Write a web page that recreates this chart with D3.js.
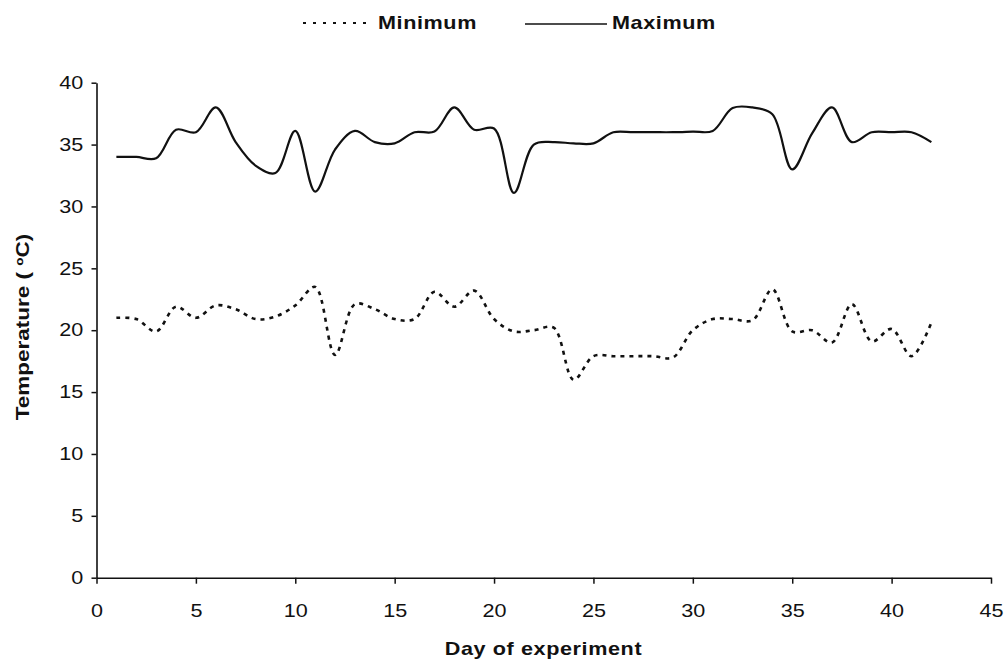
<!DOCTYPE html>
<html>
<head>
<meta charset="utf-8">
<script src="https://cdn.jsdelivr.net/npm/d3@7"></script>
<style>
body { margin: 0; background: #fff; }
text { font-family: "Liberation Sans", Arial, sans-serif; fill: #111; }
</style>
</head>
<body>
<svg id="chart" width="1006" height="663"></svg>
<script>
// daily temperatures
var days = [1, 2, 3, 4, 5, 6, 7, 8, 9, 10, 11, 12, 13, 14, 15, 16, 17, 18, 19, 20, 21,
            22, 23, 24, 25, 26, 27, 28, 29, 30, 31, 32, 33, 34, 35, 36, 37, 38, 39, 40, 41, 42];
var maxTemp = [34, 34, 33.9, 36.2, 36, 38, 35.2, 33.3, 32.7, 36.1, 31.2, 34.6, 36.1, 35.2, 35.1, 36.0, 36.05, 38, 36.2, 36.3, 31.1,
               35.0, 35.2, 35.1, 35.1, 36, 36, 36, 36, 36.05, 36.1, 37.95, 38.0, 37.45, 33.0, 35.9, 38.0, 35.2, 36, 36, 36, 35.2];
var minTemp = [21, 20.9, 19.9, 21.9, 21, 22, 21.7, 20.9, 21.1, 22, 23.5, 18, 22.1, 21.7, 20.9, 20.9, 23.1, 21.9, 23.2, 20.9, 19.9,
               20.0, 20.2, 16.0, 17.9, 17.9, 17.9, 17.9, 17.8, 20.0, 20.9, 20.9, 20.8, 23.3, 19.9, 20.0, 19.0, 22.1, 19.1, 20.1, 17.9, 20.6];
var xTicks = [0, 5, 10, 15, 20, 25, 30, 35, 40, 45];
var yTicks = [0, 5, 10, 15, 20, 25, 30, 35, 40];

var svg = d3.select("#chart");
var stretch = "scale(1.2,1)";

var x = d3.scaleLinear().domain([0, 45]).range([96.5, 991]);
var y = d3.scaleLinear().domain([0, 40]).range([577.7, 82.7]);

// axes
var xAxis = svg.append("g")
    .attr("transform", "translate(0," + y(0) + ")")
    .call(d3.axisBottom(x).tickValues(xTicks).tickSize(6).tickSizeOuter(0).tickPadding(21));
var yAxis = svg.append("g")
    .attr("transform", "translate(" + x(0) + ",0)")
    .call(d3.axisLeft(y).tickValues(yTicks).tickSize(5).tickSizeOuter(0).tickPadding(6));

[xAxis, yAxis].forEach(function(ax){
    ax.select(".domain").attr("stroke", "#111").attr("stroke-width", 1.6);
    ax.selectAll(".tick line").attr("stroke", "#111").attr("stroke-width", 1.5);
    ax.selectAll(".tick text")
        .style("font-size", "18px")
        .attr("fill", "#111")
        .attr("transform", stretch);
});

// lines, smoothed like the original spreadsheet chart
var smooth = d3.line()
    .x(function(d, i){ return x(days[i]); })
    .y(function(d){ return y(d); })
    .curve(d3.curveCatmullRom.alpha(0.5));

svg.append("path")
    .datum(maxTemp)
    .attr("d", smooth)
    .attr("fill", "none")
    .attr("stroke", "#111")
    .attr("stroke-width", 2.2);

svg.append("path")
    .datum(minTemp)
    .attr("d", smooth)
    .attr("fill", "none")
    .attr("stroke", "#111")
    .attr("stroke-width", 2.6)
    .attr("stroke-dasharray", "4,5");

// axis titles
svg.append("g")
    .attr("transform", "translate(543.5,655) " + stretch)
    .append("text")
    .attr("text-anchor", "middle")
    .style("font-size", "18px")
    .style("font-weight", "bold")
    .style("letter-spacing", "0.5px")
    .text("Day of experiment");

svg.append("g")
    .attr("transform", "translate(29,327) rotate(-90) scale(1.25,1)")
    .append("text")
    .attr("text-anchor", "middle")
    .style("font-size", "18px")
    .style("font-weight", "bold")
    .text("Temperature ( ºC)");

// legend
var legend = svg.append("g");
legend.append("line")
    .attr("x1", 303).attr("x2", 370).attr("y1", 23).attr("y2", 23)
    .attr("stroke", "#111").attr("stroke-width", 2)
    .attr("stroke-dasharray", "3,7");
legend.append("g")
    .attr("transform", "translate(378,28.5) " + stretch)
    .append("text")
    .style("font-size", "18px")
    .style("font-weight", "bold")
    .style("letter-spacing", "0.5px")
    .text("Minimum");
legend.append("line")
    .attr("x1", 525).attr("x2", 607).attr("y1", 24).attr("y2", 24)
    .attr("stroke", "#111").attr("stroke-width", 1.6);
legend.append("g")
    .attr("transform", "translate(612,28.5) " + stretch)
    .append("text")
    .style("font-size", "18px")
    .style("font-weight", "bold")
    .style("letter-spacing", "0.5px")
    .text("Maximum");
</script>
</body>
</html>
